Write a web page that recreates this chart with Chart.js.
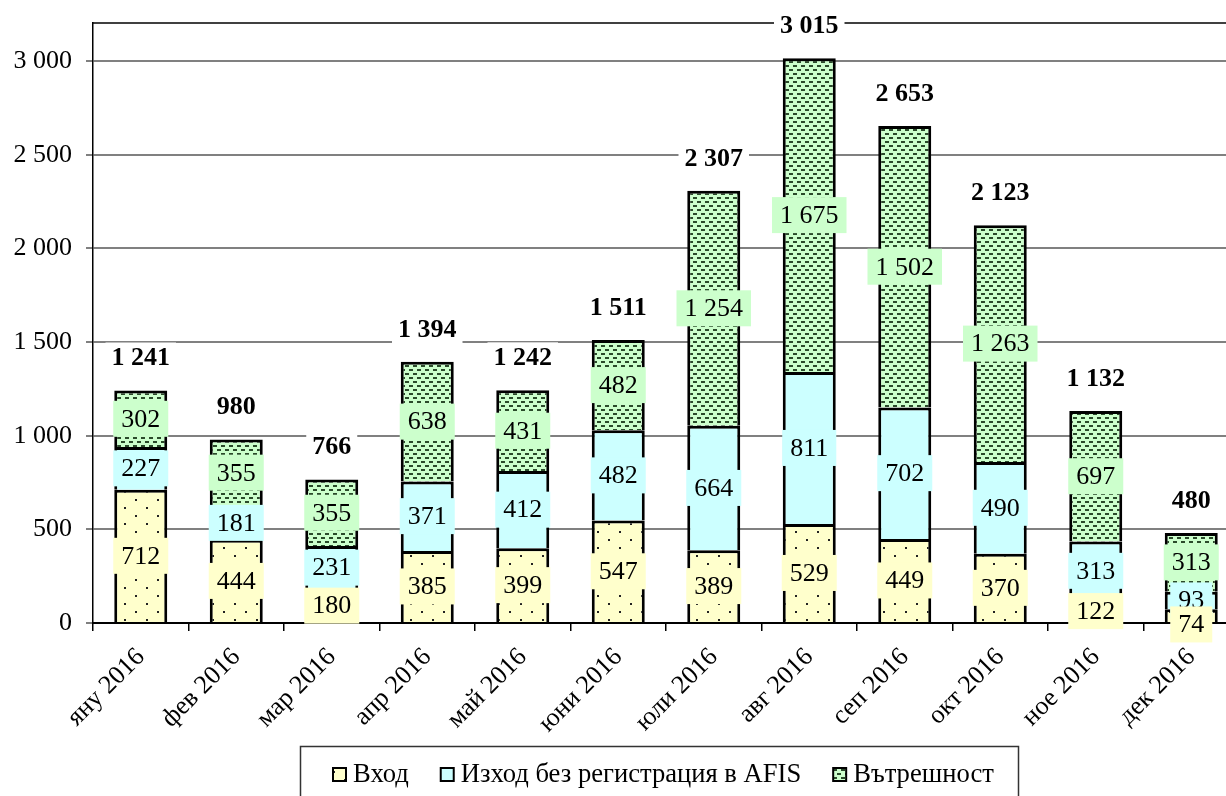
<!DOCTYPE html>
<html>
<head>
<meta charset="utf-8">
<script src="https://cdn.jsdelivr.net/npm/chart.js@4.4.1/dist/chart.umd.min.js"></script>
<style>
  html, body { margin: 0; padding: 0; background: #fff; overflow: hidden; }
  #wrap { width: 1240px; height: 796px; }
</style>
</head>
<body>
<div id="wrap"><canvas id="myChart"></canvas></div>
<script>
// data
const months = ['яну 2016', 'фев 2016', 'мар 2016', 'апр 2016', 'май 2016', 'юни 2016',
  'юли 2016', 'авг 2016', 'сеп 2016', 'окт 2016', 'ное 2016', 'дек 2016'];
const vhod = [712, 444, 180, 385, 399, 547, 389, 529, 449, 370, 122, 74];
const izhod = [227, 181, 231, 371, 412, 482, 664, 811, 702, 490, 313, 93];
const vatreshnost = [302, 355, 355, 638, 431, 482, 1254, 1675, 1502, 1263, 697, 313];
const seriesNames = ['Вход', 'Изход без регистрация в AFIS', 'Вътрешност'];
const yTicks = [0, 500, 1000, 1500, 2000, 2500, 3000];
const yMax = 3203;

const FONT = '"Liberation Serif", "Times New Roman", serif';
const fills = ['#FFFFCC', '#CCFFFF', '#CCFFCC'];

function fmt(v) {
  return String(v).replace(/\B(?=(\d{3})+(?!\d))/g, ' ');
}

// dotted yellow
function dotPattern() {
  const c = document.createElement('canvas');
  c.width = 22; c.height = 16;
  const g = c.getContext('2d');
  g.fillStyle = fills[0];
  g.fillRect(0, 0, 22, 16);
  g.fillStyle = '#222';
  g.fillRect(3, 3, 2, 2);
  g.fillRect(14, 11, 2, 2);
  return g.createPattern(c, 'repeat');
}

// dashed green
function dashPattern() {
  const c = document.createElement('canvas');
  c.width = 8; c.height = 8;
  const g = c.getContext('2d');
  g.fillStyle = fills[2];
  g.fillRect(0, 0, 8, 8);
  g.fillStyle = '#2a4a2a';
  g.fillRect(1, 1, 4, 2);
  g.fillRect(5, 5, 3, 2);
  g.fillRect(0, 5, 1, 2);
  return g.createPattern(c, 'repeat');
}

const barFills = [dotPattern(), fills[1], dashPattern()];

const labelsPlugin = {
  id: 'segmentLabels',
  beforeDatasetsDraw(chart) {
    const ctx = chart.ctx;
    const a = chart.chartArea;
    ctx.save();
    ctx.strokeStyle = '#000';
    ctx.lineWidth = 1.5;
    ctx.beginPath();
    ctx.moveTo(a.left, a.top);
    ctx.lineTo(a.right, a.top);
    ctx.stroke();
    ctx.restore();
  },
  afterDatasetsDraw(chart) {
    const ctx = chart.ctx;
    const sets = chart.data.datasets;
    ctx.save();
    ctx.textAlign = 'center';
    ctx.textBaseline = 'middle';
    ctx.font = '26px ' + FONT;
    // label centres, lower label pushed down when two collide
    const centres = sets.map((s, d) => chart.getDatasetMeta(d).data.map(bar => (bar.y + bar.base) / 2));
    for (let i = 0; i < months.length; i++) {
      for (let d = sets.length - 2; d >= 0; d--) {
        if (centres[d][i] - centres[d + 1][i] < 24) centres[d][i] = centres[d + 1][i] + 24;
      }
    }
    for (let d = sets.length - 1; d >= 0; d--) {
      chart.getDatasetMeta(d).data.forEach((bar, i) => {
        const t = fmt(sets[d].data[i]);
        const w = ctx.measureText(t).width + 16;
        const y = centres[d][i];
        ctx.fillStyle = fills[d];
        ctx.fillRect(bar.x - w / 2, y - 18, w, 36);
        ctx.fillStyle = '#000';
        ctx.fillText(t, bar.x, y + 1);
      });
    }
    // totals above bars
    ctx.font = 'bold 26px ' + FONT;
    chart.getDatasetMeta(sets.length - 1).data.forEach((bar, i) => {
      let sum = 0;
      sets.forEach(s => { sum += s.data[i]; });
      const t = fmt(sum);
      const w = ctx.measureText(t).width + 12;
      const y = bar.y - 33;
      ctx.fillStyle = '#fff';
      ctx.fillRect(bar.x - w / 2, y - 15, w, 30);
      ctx.fillStyle = '#000';
      ctx.fillText(t, bar.x, y + 1);
    });
    ctx.restore();
  },
  afterDraw(chart) {
    // legend box
    const ctx = chart.ctx;
    ctx.save();
    ctx.strokeStyle = '#333';
    ctx.lineWidth = 1.5;
    ctx.strokeRect(300.5, 746.5, 718, 70);
    ctx.font = '26.6px ' + FONT;
    ctx.textBaseline = 'middle';
    ctx.textAlign = 'left';
    let x = 333;
    const y = 775;
    seriesNames.forEach((name, d) => {
      ctx.fillStyle = barFills[d];
      ctx.fillRect(x, y - 7, 13, 13);
      ctx.strokeStyle = '#000';
      ctx.lineWidth = 2;
      ctx.strokeRect(x, y - 7, 13, 13);
      ctx.fillStyle = '#000';
      ctx.fillText(name, x + 20, y);
      x += 20 + ctx.measureText(name).width + 32;
    });
    ctx.restore();
  }
};

const datasets = [vhod, izhod, vatreshnost].map((vals, d) => ({
  label: seriesNames[d],
  data: vals,
  backgroundColor: barFills[d],
  borderColor: '#000',
  borderWidth: 3,
  borderSkipped: 'start',
  categoryPercentage: 1,
  barPercentage: 0.555
}));

new Chart(document.getElementById('myChart'), {
  type: 'bar',
  data: { labels: months, datasets },
  options: {
    responsive: true,
    maintainAspectRatio: false,
    animation: false,
    layout: { padding: { top: 23, right: 1, left: 0, bottom: 0 } },
    plugins: {
      legend: { display: false },
      tooltip: { enabled: false }
    },
    scales: {
      x: {
        stacked: true,
        grid: {
          offset: true,
          drawOnChartArea: false,
          drawTicks: true,
          tickLength: 8,
          color: '#000',
          lineWidth: 1.5
        },
        border: { display: true, color: '#000', width: 2 },
        ticks: {
          color: '#000',
          font: { family: FONT, size: 26 },
          minRotation: 45,
          maxRotation: 45,
          autoSkip: false,
          padding: 11
        },
        afterFit(scale) { scale.height = 173; }
      },
      y: {
        stacked: true,
        min: 0,
        max: yMax,
        grid: {
          color: '#808080',
          lineWidth: 2,
          tickLength: 7,
          tickColor: '#808080'
        },
        border: { display: true, color: '#000', width: 1.5 },
        ticks: {
          autoSkip: false,
          color: '#000',
          font: { family: FONT, size: 26 },
          padding: 14,
          callback: v => fmt(v)
        },
        afterBuildTicks(scale) {
          scale.ticks = yTicks.map(v => ({ value: v }));
        },
        afterFit(scale) {
          scale.width = 93;
          scale.paddingTop = 0;
          scale.paddingBottom = 0;
        }
      }
    }
  },
  plugins: [labelsPlugin]
});
</script>
</body>
</html>
